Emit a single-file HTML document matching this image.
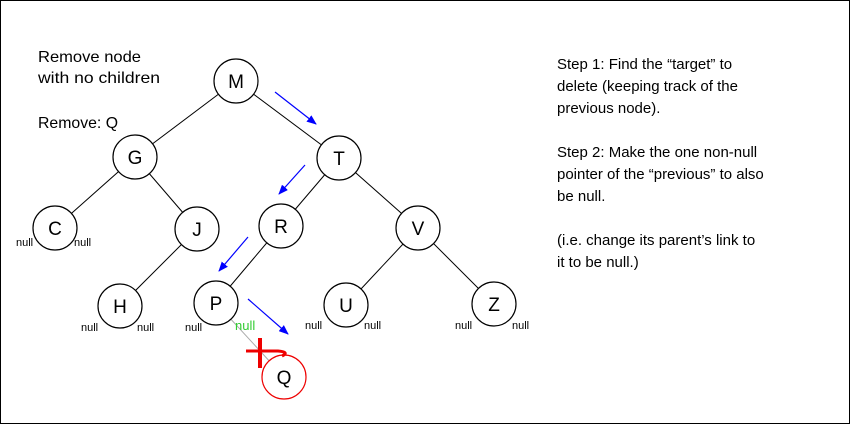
<!DOCTYPE html>
<html><head><style>
html,body{margin:0;padding:0;background:#fff}
svg{display:block}
text{font-family:"Liberation Sans",sans-serif}
</style></head><body>
<svg width="850" height="424" viewBox="0 0 850 424" xmlns="http://www.w3.org/2000/svg">
<defs><marker id="a" markerWidth="10" markerHeight="8" refX="9" refY="4" orient="auto" markerUnits="userSpaceOnUse"><path d="M0,0 L10,4 L0,8 Z" fill="#00f"/></marker></defs>
<rect x="0.5" y="0.5" width="849" height="423" fill="#fff" stroke="#000"/>
<g stroke="#000" stroke-width="1">
<line x1="236" y1="81" x2="135" y2="157"/>
<line x1="236" y1="81" x2="339" y2="158"/>
<line x1="135" y1="157" x2="55" y2="228"/>
<line x1="135" y1="157" x2="197" y2="229"/>
<line x1="339" y1="158" x2="281" y2="226"/>
<line x1="339" y1="158" x2="418" y2="228"/>
<line x1="197" y1="229" x2="120" y2="306"/>
<line x1="281" y1="226" x2="216" y2="303"/>
<line x1="418" y1="228" x2="346" y2="305"/>
<line x1="418" y1="228" x2="494" y2="304"/>
</g>
<line x1="216" y1="303" x2="284" y2="377" stroke="#aaa" stroke-width="1"/>
<g fill="#fff" stroke="#000" stroke-width="1.2">
<circle cx="236" cy="81" r="22"/><circle cx="135" cy="157" r="22"/><circle cx="339" cy="158" r="22"/>
<circle cx="55" cy="228" r="22"/><circle cx="197" cy="229" r="22"/><circle cx="281" cy="226" r="22"/>
<circle cx="418" cy="228" r="22"/><circle cx="120" cy="306" r="22"/><circle cx="216" cy="303" r="22"/>
<circle cx="346" cy="305" r="22"/><circle cx="494" cy="304" r="22"/>
</g>
<circle cx="284" cy="377" r="22" fill="#fff" stroke="#e00" stroke-width="1.2"/>
<g font-size="19" text-anchor="middle">
<text x="236" y="88">M</text><text x="135" y="164">G</text><text x="339" y="165">T</text>
<text x="55" y="235">C</text><text x="197" y="236">J</text><text x="281" y="233">R</text>
<text x="418" y="235">V</text><text x="120" y="313">H</text><text x="216" y="310">P</text>
<text x="346" y="312">U</text><text x="494" y="311">Z</text><text x="284" y="384">Q</text>
</g>
<g font-size="11">
<text x="16" y="246">null</text><text x="74" y="246">null</text>
<text x="81" y="331">null</text><text x="137" y="331">null</text>
<text x="185" y="331">null</text>
<text x="305" y="329">null</text><text x="364" y="329">null</text>
<text x="455" y="329">null</text><text x="512" y="329">null</text>
</g>
<text x="235" y="330" font-size="13" fill="#3c3">null</text>
<g stroke="#e00" stroke-width="4" fill="none">
<line x1="260" y1="338" x2="260" y2="368"/>
<path d="M246,351 L278,351 Q290,352 282,356" stroke-width="3"/>
</g>
<g stroke="#00f" stroke-width="1.2" marker-end="url(#a)">
<line x1="275" y1="92" x2="316" y2="124"/>
<line x1="305" y1="165" x2="279" y2="194"/>
<line x1="248" y1="237" x2="219" y2="271"/>
<line x1="248" y1="299" x2="288" y2="334"/>
</g>
<g font-size="16">
<text x="38" y="62" textLength="103" lengthAdjust="spacingAndGlyphs">Remove node</text>
<text x="38" y="83" textLength="122" lengthAdjust="spacingAndGlyphs">with no children</text>
<text x="38" y="128" textLength="80" lengthAdjust="spacingAndGlyphs">Remove: Q</text>
</g>
<g font-size="15">
<text x="557" y="69">Step 1: Find the “target” to</text>
<text x="557" y="91">delete (keeping track of the</text>
<text x="557" y="113">previous node).</text>
<text x="557" y="157">Step 2: Make the one non-null</text>
<text x="557" y="179">pointer of the “previous” to also</text>
<text x="557" y="201">be null.</text>
<text x="557" y="245">(i.e. change its parent’s link to</text>
<text x="557" y="267">it to be null.)</text>
</g>
</svg>
</body></html>
